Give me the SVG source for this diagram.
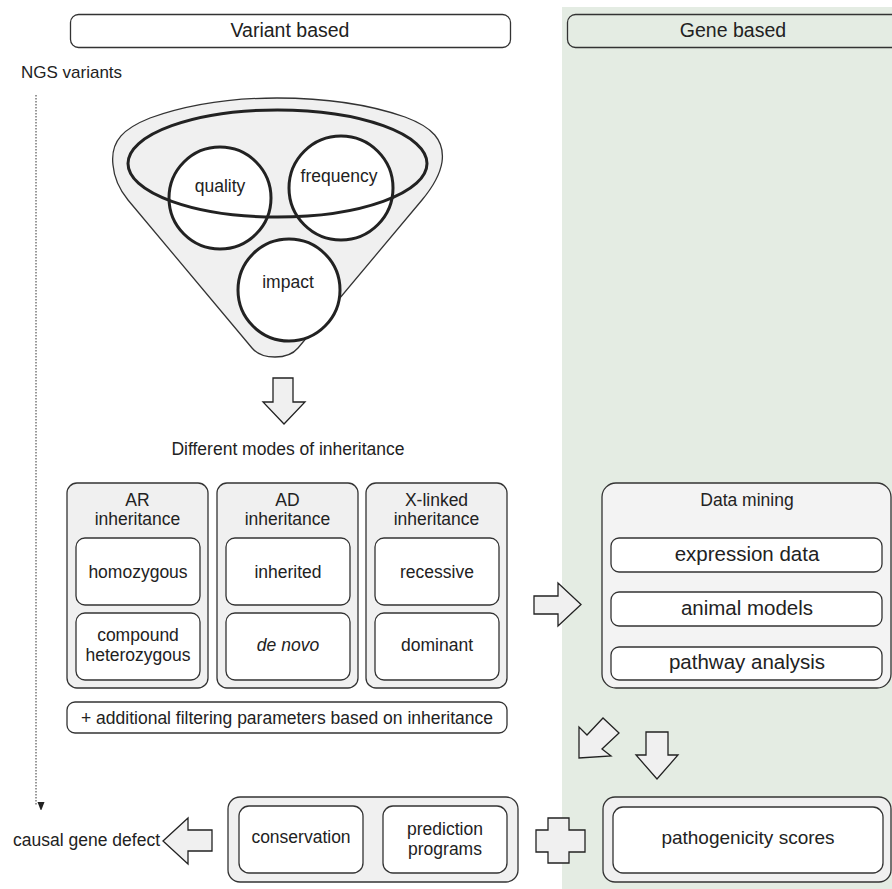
<svg xmlns="http://www.w3.org/2000/svg" width="892" height="889" viewBox="0 0 892 889">
<defs>
<style>
.t{font-family:"Liberation Sans",Arial,sans-serif;fill:#222;font-size:17.5px;text-anchor:middle}
.box{fill:#f0f0f0;stroke:#333;stroke-width:1.3}
.in{fill:#fff;stroke:#333;stroke-width:1.3}
.arr{fill:#f0f0f0;stroke:#222;stroke-width:1.3;stroke-linejoin:miter}
.thick{fill:none;stroke:#222;stroke-width:3}
</style>
<marker id="ah" markerWidth="8" markerHeight="10" refX="3.5" refY="9" orient="auto-start-reverse" markerUnits="userSpaceOnUse" viewBox="0 0 7 9">
<path d="M0,0 L7,0 L3.5,9 Z" fill="#222" transform="rotate(-90 3.5 4.5)"/>
</marker>
</defs>
<rect x="562" y="7" width="330" height="882" fill="#e4ece3"/>

<g id="header-variant">
<rect x="70.5" y="14.5" width="440" height="33" rx="8" fill="#fff" stroke="#333" stroke-width="1.3"/>
<text class="t" x="290" y="37" style="font-size:19.5px">Variant based</text>
</g>
<g id="header-gene">
<rect x="567.5" y="14.5" width="340" height="33" rx="8" fill="none" stroke="#333" stroke-width="1.3"/>
<text class="t" x="733" y="37" style="font-size:19.5px">Gene based</text>
</g>
<g id="ngs">
<text class="t" x="21" y="78" style="text-anchor:start;font-size:17px">NGS variants</text>
</g>

<g id="funnel">
<path class="box" stroke-width="1" d="M113,165 C110,140 125,128 150,118 C195,102 240,98 277,98 C320,98 365,103 405,117 C432,127 445,140 442,162 C440,175 432,188 422,200 L298,348 C288,360 262,360 252,348 L128,200 C119,189 114,177 113,165 Z"/>
<circle cx="220" cy="198" r="51" fill="#fff"/>
<circle cx="341" cy="188" r="52" fill="#fff"/>
<circle cx="289" cy="290" r="51" fill="#fff"/>
<ellipse class="thick" cx="277.5" cy="163.5" rx="149.5" ry="53.5"/>
<circle class="thick" cx="220" cy="198" r="51"/>
<circle class="thick" cx="341" cy="188" r="52"/>
<circle class="thick" cx="289" cy="290" r="51"/>
<text class="t" x="220" y="192">quality</text>
<text class="t" x="339" y="182">frequency</text>
<text class="t" x="288" y="288">impact</text>
</g>

<g id="modes-label">
<text class="t" x="288" y="455">Different modes of inheritance</text>
</g>

<g id="ar">
<rect class="box" x="67" y="483" width="141" height="205" rx="10"/>
<text class="t" x="137.5" y="506">AR</text>
<text class="t" x="137.5" y="525">inheritance</text>
<rect class="in" x="76" y="538" width="124" height="67" rx="9"/>
<text class="t" x="138" y="578">homozygous</text>
<rect class="in" x="76" y="613" width="124" height="67" rx="9"/>
<text class="t" x="138" y="641">compound</text>
<text class="t" x="138" y="661">heterozygous</text>
</g>
<g id="ad">
<rect class="box" x="217" y="483" width="141" height="205" rx="10"/>
<text class="t" x="287.5" y="506">AD</text>
<text class="t" x="287.5" y="525">inheritance</text>
<rect class="in" x="226" y="538" width="124" height="67" rx="9"/>
<text class="t" x="288" y="578">inherited</text>
<rect class="in" x="226" y="613" width="124" height="67" rx="9"/>
<text class="t" x="288" y="651" style="font-style:italic">de novo</text>
</g>
<g id="xlinked">
<rect class="box" x="366" y="483" width="141" height="205" rx="10"/>
<text class="t" x="436.5" y="506">X-linked</text>
<text class="t" x="436.5" y="525">inheritance</text>
<rect class="in" x="375" y="538" width="124" height="67" rx="9"/>
<text class="t" x="437" y="578">recessive</text>
<rect class="in" x="375" y="613" width="124" height="67" rx="9"/>
<text class="t" x="437" y="651">dominant</text>
</g>
<g id="filter">
<rect class="in" x="67" y="702" width="440" height="31" rx="8"/>
<text class="t" x="287" y="724">+ additional filtering parameters based on inheritance</text>
</g>

<g id="datamining">
<rect class="box" x="602" y="483" width="289" height="205" rx="14" style="fill:#f3f3f3"/>
<text class="t" x="747" y="506">Data mining</text>
<rect class="in" x="611" y="538" width="271" height="34" rx="8"/>
<text class="t" x="747" y="561" style="font-size:20.5px">expression data</text>
<rect class="in" x="611" y="592" width="271" height="34" rx="8"/>
<text class="t" x="747" y="615" style="font-size:20.5px">animal models</text>
<rect class="in" x="611" y="647" width="271" height="33" rx="8"/>
<text class="t" x="747" y="669" style="font-size:20.5px">pathway analysis</text>
</g>

<g id="tests">
<rect class="box" x="228" y="797" width="290" height="85" rx="12"/>
<rect class="in" x="239" y="806" width="124" height="67" rx="10"/>
<text class="t" x="301" y="843">conservation</text>
<rect class="in" x="383" y="806" width="124" height="67" rx="10"/>
<text class="t" x="445" y="835">prediction</text>
<text class="t" x="445" y="855">programs</text>
</g>
<g id="pathogenicity">
<rect class="box" x="603" y="797" width="288" height="85" rx="12"/>
<rect class="in" x="613" y="807" width="270" height="66" rx="10"/>
<text class="t" x="748" y="844" style="font-size:19px">pathogenicity scores</text>
</g>
<g id="causal">
<text class="t" x="160" y="846" style="text-anchor:end">causal gene defect</text>
</g>

<g id="connectors">
<line x1="36" y1="95" x2="36" y2="806" stroke="#333" stroke-width="1" stroke-dasharray="1.5,1.5" marker-end="url(#ah)"/>
<polygon class="arr" points="273,378 293,378 293,402 305,402 284,424 263,402 273,402"/>
<polygon class="arr" points="534,596 558,596 558,583 581,604.5 558,626 558,614 534,614"/>
<polygon class="arr" points="579,758 579,727 587,735 603,718 619,733 602,749 611,756"/>
<polygon class="arr" points="646,732 668,732 668,755 678,755 657,779 636,755 646,755"/>
<polygon class="arr" points="163,841 188,818 188,830 212,830 212,851 188,851 188,864"/>
<path class="arr" d="M548,818 H569 V830 H585 V852 H569 V863 H548 V852 H536 V830 H548 Z"/>
</g>
</svg>
